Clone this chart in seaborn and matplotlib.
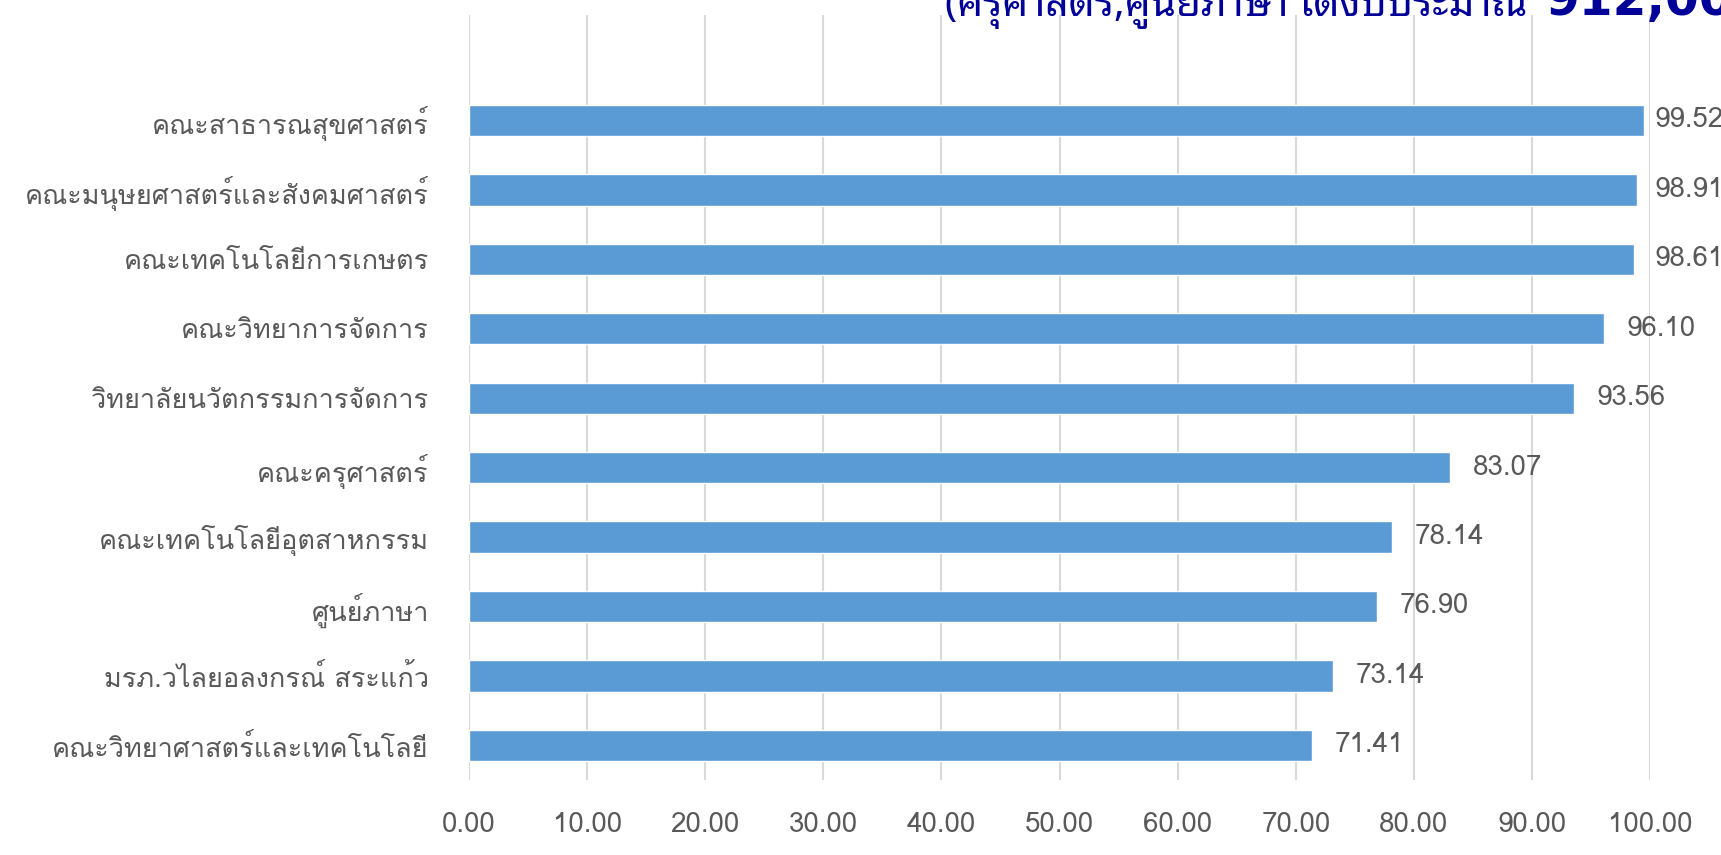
import matplotlib
matplotlib.use("Agg")
import matplotlib.pyplot as plt
import seaborn as sns
import pandas as pd

categories = [
    "คณะสาธารณสุขศาสตร์",
    "คณะมนุษยศาสตร์และสังคมศาสตร์",
    "คณะเทคโนโลยีการเกษตร",
    "คณะวิทยาการจัดการ",
    "วิทยาลัยนวัตกรรมการจัดการ",
    "คณะครุศาสตร์",
    "คณะเทคโนโลยีอุตสาหกรรม",
    "ศูนย์ภาษา",
    "มรภ.วไลยอลงกรณ์ สระแก้ว",
    "คณะวิทยาศาสตร์และเทคโนโลยี",
]
values = [99.52, 98.91, 98.61, 96.10, 93.56, 83.07, 78.14, 76.90, 73.14, 71.41]
xticks = [0, 10, 20, 30, 40, 50, 60, 70, 80, 90, 100]
title_text = "(ครุศาสตร์,ศูนย์ภาษา ได้งบประมาณ"
title_number = "912,00"

sns.set_theme(style="white")
plt.rcParams["font.family"] = ["Loma", "DejaVu Sans"]

df = pd.DataFrame({"cat": categories, "val": values})

fig = plt.figure(figsize=(17.21, 8.55), dpi=100)
ax = fig.add_axes([0.2725, 0.0877, 0.9588 - 0.2725, 0.9825 - 0.0877])
sns.barplot(data=df, y="cat", x="val", orient="h", color="#5B9BD5",
            saturation=1, width=0.45, ax=ax, zorder=3)
ax.set_xlim(0, 100)
ax.set_ylim(9.5, -1.52)
ax.set_xticks(xticks)
ax.set_xticklabels([f"{t:.2f}" for t in xticks])
ax.xaxis.grid(True, color="#D9D9D9", linewidth=1.5, zorder=0)
ax.yaxis.grid(False)
for s in ax.spines.values():
    s.set_visible(False)
ax.set_xlabel("")
ax.set_ylabel("")
ax.tick_params(axis="y", length=0, pad=29, labelsize=19.5, labelcolor="#595959")
ax.tick_params(axis="x", length=0, pad=23, labelsize=20, labelcolor="#595959")

for i, v in enumerate(values):
    ax.text(min(v + 1.9, 100.4), i, f"{v:.2f}", va="center", ha="left",
            fontsize=20, color="#595959", clip_on=False)

title = fig.text(945 / 1721, 1 - 16 / 855, title_text, ha="left", va="baseline",
                 fontsize=34, color="#000099",
                 family=["Noto Sans Thai Looped", "Sarabun", "Loma", "DejaVu Sans"],
                 fontstretch="condensed")
# fit the title to the width it takes in the reference
renderer = fig.canvas.get_renderer()
w = title.get_window_extent(renderer).width
title.set_fontsize(34 * 583 / w)

fig.text(1546 / 1721, 1 - 15 / 855, title_number, ha="left", va="baseline",
         fontsize=35, color="#000099", fontweight="bold", family=["DejaVu Sans"])

fig.savefig("out.png", dpi=100)
